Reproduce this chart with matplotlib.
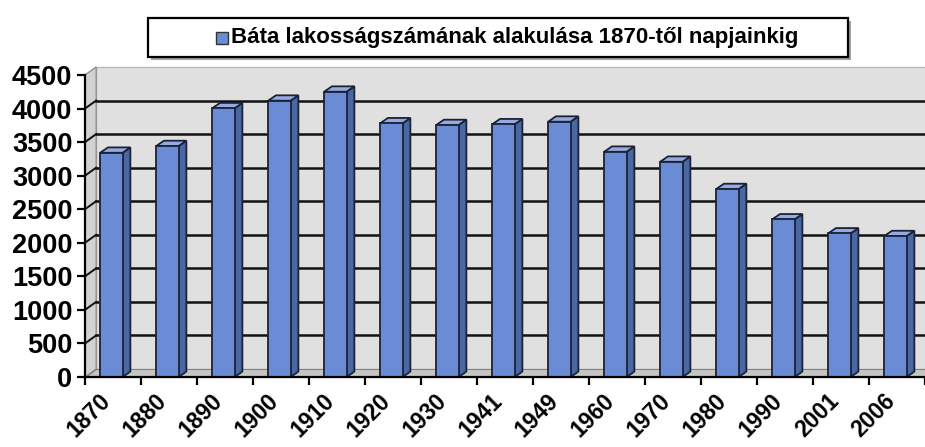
import numpy as np
import matplotlib.pyplot as plt
from matplotlib.patches import Polygon, Rectangle

# Adatok (leolvasva az ábráról)
evek = ['1870', '1880', '1890', '1900', '1910', '1920', '1930', '1941',
        '1949', '1960', '1970', '1980', '1990', '2001', '2006']
lakossag = [3341, 3441, 4004, 4117, 4251, 3780, 3754, 3765,
            3804, 3356, 3207, 2800, 2348, 2139, 2099]
y_ticks = list(range(0, 4501, 500))
cim = 'Báta lakosságszámának alakulása 1870-től napjainkig'

plt.rcParams['font.family'] = ['Liberation Sans', 'DejaVu Sans']
plt.rcParams['font.weight'] = 'bold'

W, H = 925, 447
fig = plt.figure(figsize=(W / 100, H / 100), dpi=100)
ax = fig.add_axes([85 / W, 70 / H, 840 / W, 302 / H])
n = len(evek)
ymax = 4500
ax.set_xlim(0, n)
ax.set_ylim(0, ymax)

# 3D hatás: hátfal, oldalfal, padló
dx, dy = 0.2, 120
ax.add_patch(Polygon([(dx, dy), (n + dx, dy), (n + dx, ymax + dy), (dx, ymax + dy)],
                     closed=True, facecolor='#e0e0e0', edgecolor='#b8b8b8',
                     lw=1, zorder=0, clip_on=False))
ax.add_patch(Polygon([(0, 0), (dx, dy), (dx, ymax + dy), (0, ymax)],
                     closed=True, facecolor='#d2d2d2', edgecolor='#909090',
                     lw=1, zorder=0.5, clip_on=False))
ax.add_patch(Polygon([(0, 0), (n + dx, 0), (n + dx, dy), (dx, dy)],
                     closed=True, facecolor='#c4c4c4', edgecolor='#808080',
                     lw=0.8, zorder=0.6, clip_on=False))

# rácsvonalak a hátfalon
for v in y_ticks[1:-1]:
    ax.plot([dx, n + dx], [v + dy, v + dy], color='#111111', lw=1.8, zorder=1, clip_on=False)
    ax.plot([0, dx], [v, v + dy], color='#111111', lw=1.4, zorder=1)

# oszlopok
bw = 0.4
bdx, bdy = 0.14, 80
x0s = np.arange(n) + 0.27
ax.bar(x0s, lakossag, width=bw, align='edge', color='#6a8cd6',
       edgecolor='#1c2236', lw=1.3, zorder=3)
for x0, v in zip(x0s, lakossag):
    x1 = x0 + bw
    ax.add_patch(Polygon([(x1, 0), (x1 + bdx, bdy), (x1 + bdx, v + bdy), (x1, v)],
                         closed=True, facecolor='#4a66a3', edgecolor='#1c2236',
                         lw=1.3, zorder=2.9))
    ax.add_patch(Polygon([(x0, v), (x1, v), (x1 + bdx, v + bdy), (x0 + bdx, v + bdy)],
                         closed=True, facecolor='#93abe2', edgecolor='#1c2236',
                         lw=1.3, zorder=2.9))

# tengelyek
for s in ['top', 'right']:
    ax.spines[s].set_visible(False)
ax.spines['left'].set_bounds(0, ymax)
ax.spines['left'].set_linewidth(1.6)
ax.spines['bottom'].set_linewidth(1.6)
ax.spines['left'].set_zorder(4)
ax.spines['bottom'].set_zorder(4)
ax.set_yticks(y_ticks)
ax.tick_params(axis='y', length=6, width=1.6, labelsize=19.5, pad=3)
ax.set_xticks(range(0, n + 1))
ax.set_xticklabels([])
ax.tick_params(axis='x', which='major', length=6, width=1.6)
ax.set_xticks(np.arange(n) + 0.25, minor=True)
ax.set_xticklabels(evek, minor=True, rotation=45, ha='right',
                   rotation_mode='anchor', fontsize=16.5)
ax.tick_params(axis='x', which='minor', length=0, pad=9)

# cím / jelmagyarázat doboz
fig.patches.append(Rectangle((151 / W, (H - 60) / H), 700 / W, 39 / H,
                             transform=fig.transFigure, facecolor='#a0a0a0',
                             edgecolor='none', zorder=5))
fig.patches.append(Rectangle((148 / W, (H - 57) / H), 700 / W, 39 / H,
                             transform=fig.transFigure, facecolor='white',
                             edgecolor='black', lw=1.6, zorder=6))
fig.patches.append(Rectangle((216 / W, (H - 44) / H), 12 / W, 12 / H,
                             transform=fig.transFigure, facecolor='#6a8cd6',
                             edgecolor='#333333', lw=1, zorder=7))
fig.text(231 / W, (H - 38) / H, cim, fontsize=16, fontweight='bold',
         ha='left', va='center', zorder=8)

fig.savefig('out.png', dpi=100)
